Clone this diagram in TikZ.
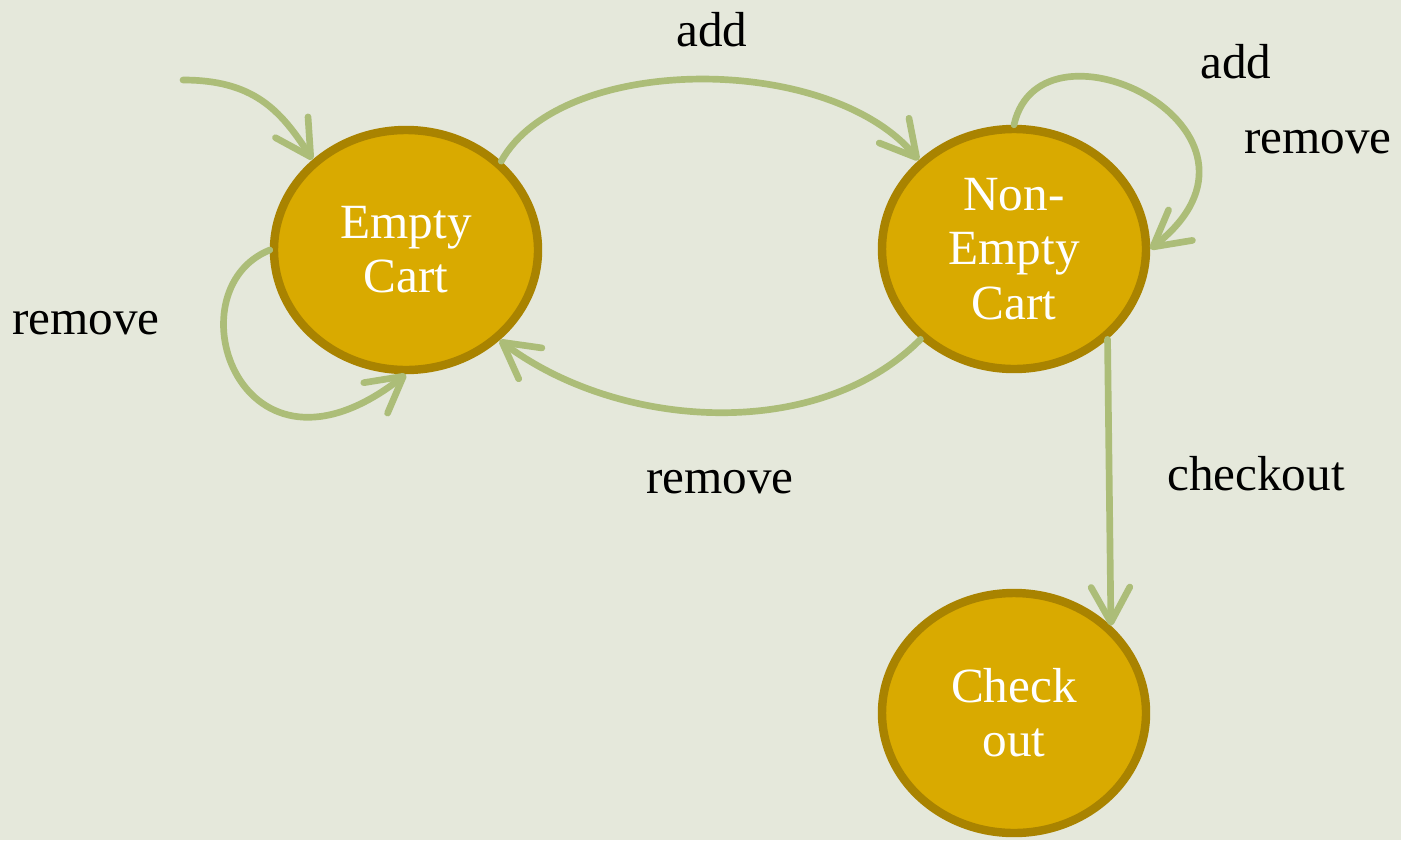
\documentclass[tikz,border=0pt]{standalone}
\usepackage{fontspec}
\setmainfont{Liberation Serif}
\usepackage{xcolor}
\usepackage{tikz}
\usetikzlibrary{positioning,arrows.meta,calc,shapes.geometric}
\definecolor{bgcol}{HTML}{E5E8DB}
\definecolor{cartfill}{HTML}{D9AA00}
\definecolor{cartline}{HTML}{A98300}
\definecolor{transcol}{HTML}{ACBD78}

\begin{document}
\begin{tikzpicture}[font=\fontsize{14}{15.4}\selectfont,
  cartstate/.style={ellipse, draw=cartline, fill=cartfill, line width=2.4pt, text=white,
    align=center, minimum width=2.64cm, minimum height=2.40cm, inner sep=0pt},
  trans/.style={draw=transcol, line width=1.9pt, line cap=round,
    -{Straight Barb[length=10pt,width=11pt,line cap=round,line join=round]}},
  lbl/.style={text=black}]
\fill[bgcol] (0,0) rectangle (14.01,-8.40);
\useasboundingbox (0,0) rectangle (14.01,-8.40);
% states
\node[cartstate] (empty) at (4.06,-2.50) {Empty\\Cart};
\node[cartstate] (nonempty) at (10.14,-2.49) {Non-\\Empty\\Cart};
\node[cartstate] (checkout) at (10.14,-7.13) {Check\\out};
\coordinate (start) at (1.83,-0.80);
% transitions
\draw[trans] (start) .. controls +(0.7,0) and +(-0.32,0.5) .. (empty.136);
\draw[trans] (empty.43) .. controls +(0.6,1.08) and +(-0.9,1.08) .. (nonempty.137);
\draw[trans] (nonempty.224) .. controls +(-1.02,-1.03) and +(1.2,-0.9) .. (empty.316);
\draw[trans] (empty.180) .. controls +(202:1.08) and +(218:2.1) .. (empty.270);
\draw[trans] (nonempty.90) .. controls +(0.27,1.2) and +(1.5,1.18) .. (nonempty.0);
\draw[trans] (nonempty.316) -- (checkout.42);
% labels
\node[lbl] (addtop) at (7.12,-0.30) {add};
\node[lbl] (addloop) at (12.36,-0.62) {add};
\node[lbl] (remloop) at (13.18,-1.42) {remove};
\node[lbl] (remempty) at (0.86,-3.23) {remove};
\node[lbl] (remback) at (7.20,-4.82) {remove};
\node[lbl] (chk) at (12.56,-4.74) {checkout};
\end{tikzpicture}
\end{document}
